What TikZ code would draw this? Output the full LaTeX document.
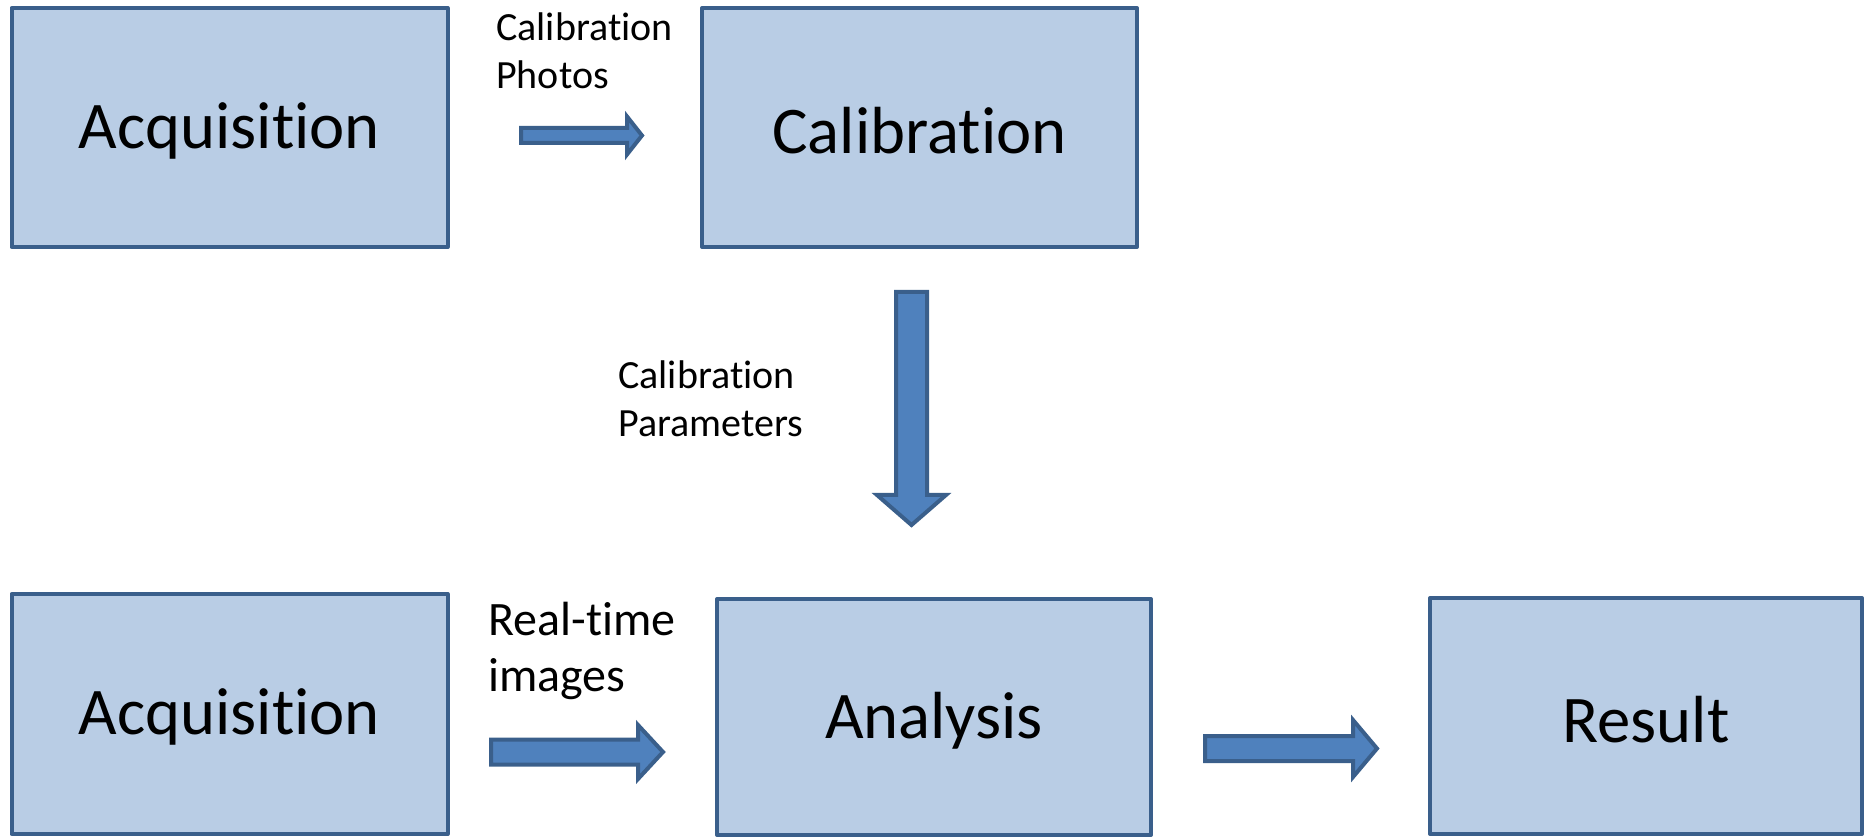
\documentclass[tikz,border=0pt]{standalone}
\usepackage{fontspec}
\setmainfont{Carlito}[RawFeature={-liga}]
\definecolor{boxfill}{HTML}{B9CDE5}
\definecolor{boxline}{HTML}{3A5F8B}
\definecolor{arrfill}{HTML}{4F81BD}
\newcommand\lowtxt[1]{\raisebox{-2.5pt}[\height][\depth]{#1}}
\begin{document}
\begin{tikzpicture}[x=0.75pt,y=-0.75pt,
  box/.style={draw=boxline, fill=boxfill, line width=3pt, inner sep=0pt,
    font=\fontsize{50}{60}\selectfont, line join=round},
  barrow/.style={draw=boxline, fill=arrfill, line width=3pt, line join=miter},
  lbl/.style={inner sep=0pt, anchor=north west, align=left,
    font=\fontsize{30}{36}\selectfont}]
\useasboundingbox (0,0) rectangle (1864,837);

% boxes
\node[box, minimum width=327pt, minimum height=179.25pt] (acq1) at (229.5,127.5) {\lowtxt{Acquisition}};
\node[box, minimum width=326.25pt, minimum height=179.25pt] (cal) at (919.5,127.5) {\lowtxt{Calibration}};
\node[box, minimum width=327pt, minimum height=180pt] (acq2) at (229.5,714) {\lowtxt{Acquisition}};
\node[box, minimum width=325.5pt, minimum height=177pt] (ana) at (934,717) {\lowtxt{Analysis}};
\node[box, minimum width=324pt, minimum height=177pt] (res) at (1646,716) {\lowtxt{Result}};

% block arrows
\coordinate (a1) at (521,135.5);
\draw[barrow] (a1) ++(0,-7.5) -- ++(106,0) -- ++(0,-11.5) -- ++(15,19)
  -- ++(-15,19) -- ++(0,-11.5) -- ++(-106,0) -- cycle;

\coordinate (a2) at (911.5,292);
\draw[barrow] (a2) ++(-15.5,0) -- ++(31,0) -- ++(0,203) -- ++(19,0)
  -- ++(-34.5,30) -- ++(-34.5,-30) -- ++(19,0) -- cycle;

\coordinate (a3) at (491,752);
\draw[barrow] (a3) ++(0,-12.5) -- ++(147,0) -- ++(0,-14.5) -- ++(25,27)
  -- ++(-25,27) -- ++(0,-14.5) -- ++(-147,0) -- cycle;

\coordinate (a4) at (1205,748.5);
\draw[barrow] (a4) ++(0,-12.5) -- ++(148,0) -- ++(0,-16) -- ++(24,28.5)
  -- ++(-24,28.5) -- ++(0,-16) -- ++(-148,0) -- cycle;

% labels
\node[lbl] (l1) at (496,12) {Calibration\\Photos};
\node[lbl] (l2) at (618,360) {Calibration\\Parameters};
\node[lbl, font=\fontsize{36}{42}\selectfont] (l3) at (488,602) {Real-time\\images};
\end{tikzpicture}
\end{document}
